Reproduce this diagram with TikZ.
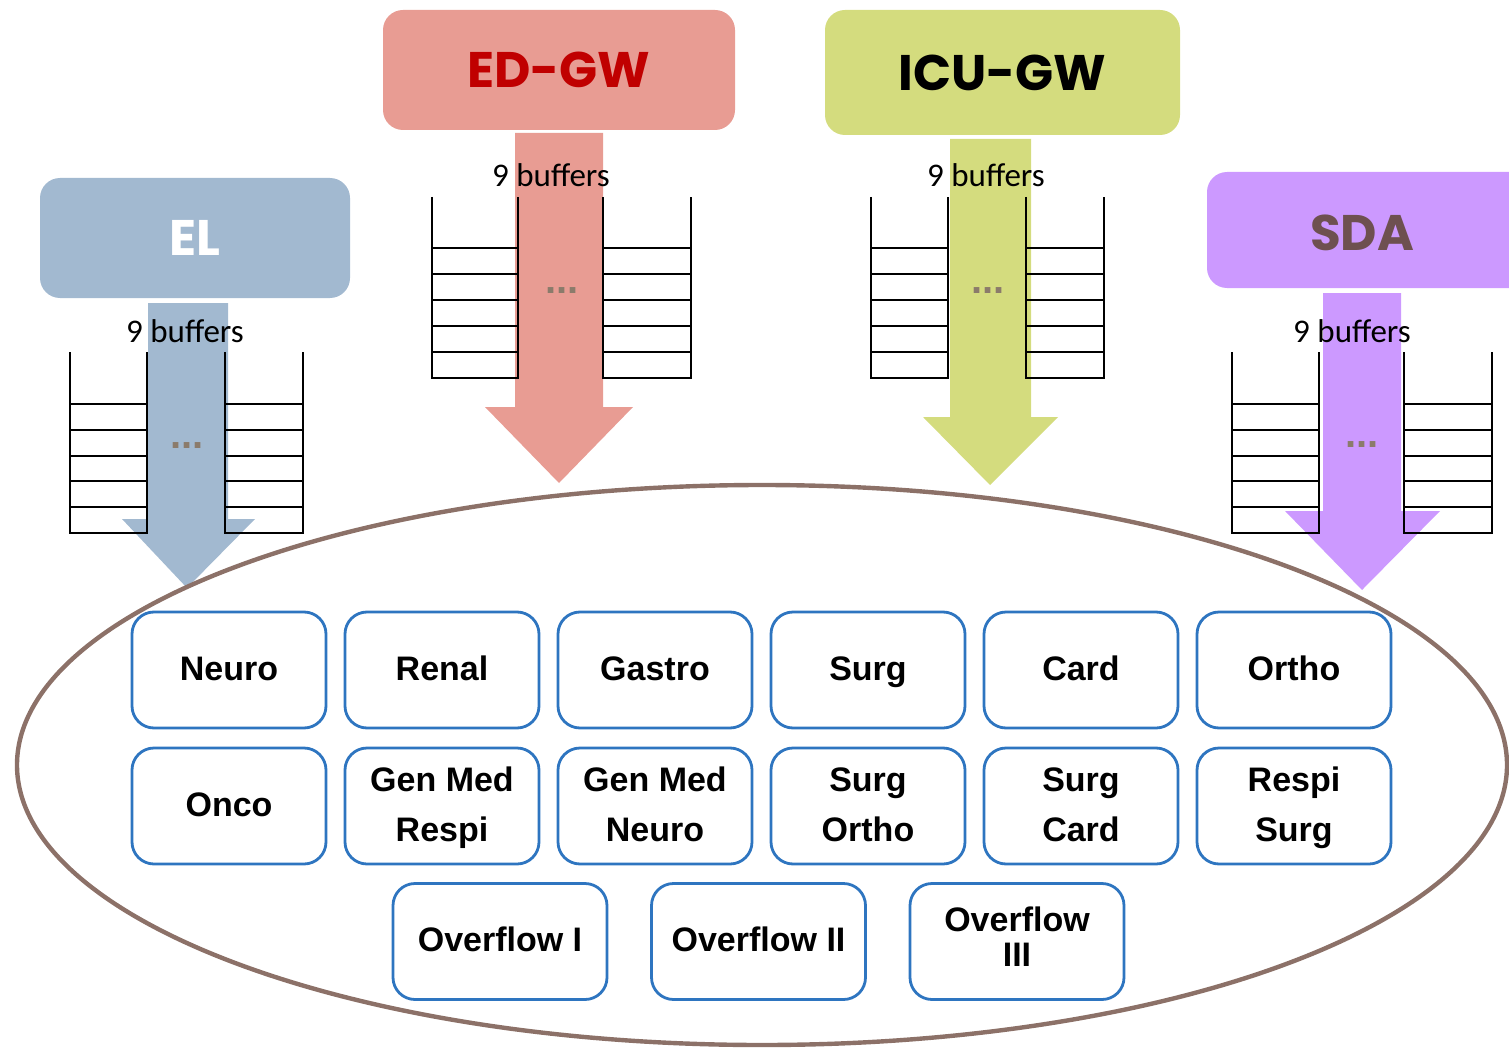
\documentclass[tikz,border=0pt]{standalone}
\usepackage{fontspec}
\setmainfont{Liberation Sans}
\newfontfamily\headfont{Poppins}
\newfontfamily\buffont{Carlito}
\definecolor{elc}{HTML}{A2B9D0}
\definecolor{edc}{HTML}{E89C93}
\definecolor{icuc}{HTML}{D4DC7E}
\definecolor{sdac}{HTML}{CC99FF}
\definecolor{edtxt}{HTML}{C00000}
\definecolor{sdatxt}{HTML}{6E5050}
\definecolor{ellc}{HTML}{8C7168}
\definecolor{unitc}{HTML}{2E75C0}
\definecolor{dotc}{HTML}{8B7B6B}
\newcommand{\bufstack}[5]{%
  \draw[buf] (#1,#3) -- (#1,#5) -- (#2,#5) -- (#2,#3);
  \foreach \i in {0,...,4}{\draw[buf] (#1,{#4+\i*(#5-#4)/5}) -- (#2,{#4+\i*(#5-#4)/5});}
}
\begin{document}
\begin{tikzpicture}[x=0.5pt,y=-0.5pt,
  head/.style={rounded corners=10pt,minimum height=60pt,inner sep=0pt,font=\headfont\bfseries\fontsize{25}{28}\selectfont},
  buf/.style={line width=1pt,black},
  buftext/.style={font=\buffont\fontsize{16.5}{18}\selectfont,inner sep=0pt},
  dots/.style={font=\bfseries\fontsize{20}{22}\selectfont,text=dotc,inner sep=0pt},
  unit/.style={draw=unitc,line width=1.4pt,fill=white,rounded corners=11pt,minimum width=97pt,minimum height=58pt,inner sep=0pt,align=center,font=\fontsize{17}{25}\selectfont\bfseries},
  unitw/.style={unit,minimum width=107pt}]
\useasboundingbox (0,0) rectangle (1509,1048);
% header boxes
\node[head,fill=elc,text=white,minimum width=155pt] (el) at (195,238) {EL};
\node[head,fill=edc,text=edtxt,minimum width=176pt] (ed) at (559,70) {ED-GW};
\node[head,fill=icuc,text=black,minimum width=177.5pt,minimum height=62.5pt] (icu) at (1002.5,72.5) {ICU-GW};
\fill[sdac,rounded corners=10pt] (1207,172) rectangle (1530,288);
\node[head,text=sdatxt] (sda) at (1362,233) {SDA};
% arrows
\fill[elc] (148,303) -- (228,303) -- (228,519) -- (255,519) -- (187,588) -- (122,519) -- (148,519) -- cycle;
\fill[edc] (515,133) -- (603,133) -- (603,407) -- (633,407) -- (559,483) -- (485,407) -- (515,407) -- cycle;
\fill[icuc] (950,139) -- (1031,139) -- (1031,417) -- (1058,417) -- (990,485) -- (923,417) -- (950,417) -- cycle;
\fill[sdac] (1323,293) -- (1401,293) -- (1401,511) -- (1440,511) -- (1362,590) -- (1285,511) -- (1323,511) -- cycle;
% ellipse
\draw[ellc,line width=2.2pt] (762,765) ellipse [x radius=372.5pt, y radius=140pt];
% buffers
\bufstack{70}{147}{352}{404}{533}
\bufstack{225}{303}{352}{404}{533}
\bufstack{432}{518}{197}{248}{378}
\bufstack{603}{691}{197}{248}{378}
\bufstack{871}{948}{197}{248}{378}
\bufstack{1026}{1104}{197}{248}{378}
\bufstack{1232}{1319}{352}{404}{533}
\bufstack{1404}{1492}{352}{404}{533}
\node[buftext] (b1) at (185,331) {9 buffers};
\node[buftext] (b2) at (551,175) {9 buffers};
\node[buftext] (b3) at (986,175) {9 buffers};
\node[buftext] (b4) at (1352,331) {9 buffers};
\node[dots] (d1) at (187,446) {...};
\node[dots] (d2) at (562,291) {...};
\node[dots] (d3) at (988,291) {...};
\node[dots] (d4) at (1362,445) {...};
% units
\node[unit] (u11) at (229,670) {Neuro\strut};
\node[unit] (u12) at (442,670) {Renal\strut};
\node[unit] (u13) at (655,670) {Gastro\strut};
\node[unit] (u14) at (868,670) {Surg\strut};
\node[unit] (u15) at (1081,670) {Card\strut};
\node[unit] (u16) at (1294,670) {Ortho\strut};
\node[unit] (u21) at (229,806) {Onco\strut};
\node[unit] (u22) at (442,806) {Gen Med\strut\\Respi\strut};
\node[unit] (u23) at (655,806) {Gen Med\strut\\Neuro\strut};
\node[unit] (u24) at (868,806) {Surg\strut\\Ortho\strut};
\node[unit] (u25) at (1081,806) {Surg\strut\\Card\strut};
\node[unit] (u26) at (1294,806) {Respi\strut\\Surg\strut};
\node[unitw] (u31) at (500,941.5) {Overflow I\strut};
\node[unitw] (u32) at (758.5,941.5) {Overflow II\strut};
\node[unitw,font=\fontsize{17}{17.5}\selectfont\bfseries] (u33) at (1017,941.5) {\rule{0pt}{9pt}Overflow\strut\\III\strut};
\end{tikzpicture}
\end{document}
